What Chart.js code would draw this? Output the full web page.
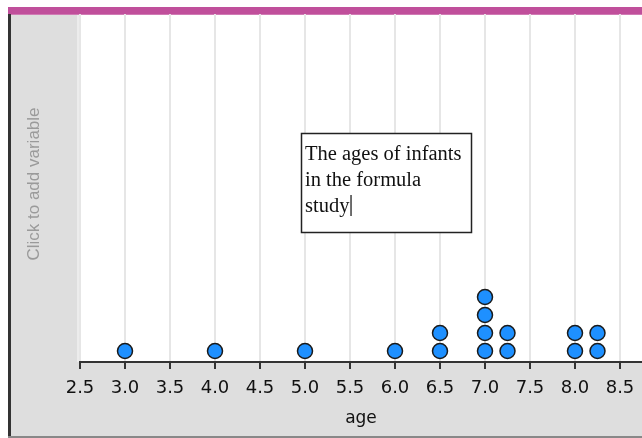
<!DOCTYPE html>
<html>
<head>
<meta charset="utf-8">
<title>Dot plot - age</title>
<script src="https://cdn.jsdelivr.net/npm/chart.js@4.4.1/dist/chart.umd.min.js"></script>
<style>
    html, body { margin: 0; padding: 0; background: #ffffff; }
    #wrap { position: relative; width: 642px; height: 438px; }
</style>
</head>
<body>
<div id="wrap"><canvas id="dotPlot" width="642" height="438"></canvas></div>
<script>
// Data: ages of infants in the formula study
const ages = [3.0, 4.0, 5.0, 6.0, 6.5, 6.5, 7.0, 7.0, 7.0, 7.0, 7.25, 7.25, 8.0, 8.0, 8.25, 8.25];
const xTickLabels = ['2.5', '3.0', '3.5', '4.0', '4.5', '5.0', '5.5', '6.0', '6.5', '7.0', '7.5', '8.0', '8.5'];
const axisTitle = 'age';
const sideLabel = 'Click to add variable';
const noteLines = ['The ages of infants', 'in the formula', 'study'];

// stack repeated values into columns of dots
function stackDots(values) {
    const seen = {};
    return values.map(function (v) {
        const k = String(v);
        seen[k] = (seen[k] || 0) + 1;
        return { x: v, y: seen[k] - 1 };
    });
}

// Frame, side panel and text note
const framePlugin = {
    id: 'frame',
    beforeDraw: function (chart) {
        const c = chart.ctx;
        const a = chart.chartArea;
        c.save();
        c.fillStyle = '#ffffff';
        c.fillRect(0, 0, chart.width, chart.height);
        c.fillStyle = '#dedede';
        c.fillRect(8, 14, chart.width - 8, chart.height - 14);
        c.fillStyle = '#ececec';
        c.fillRect(a.left - 3, a.top, 3, a.bottom - a.top);
        c.fillStyle = '#ffffff';
        c.fillRect(a.left, a.top, a.right - a.left, a.bottom - a.top);
        // top bar
        c.fillStyle = '#c04f9b';
        c.fillRect(8, 7, chart.width - 8, 7);
        c.fillStyle = '#d07ab4';
        c.fillRect(8, 14, chart.width - 8, 1);
        // borders
        c.fillStyle = '#333333';
        c.fillRect(8, 14, 3, chart.height - 14);
        c.fillStyle = '#888888';
        c.fillRect(8, chart.height - 2, chart.width - 8, 2);
        // side label
        c.translate(34, 184);
        c.rotate(-Math.PI / 2);
        c.fillStyle = '#9a9a9a';
        c.font = "17px 'Liberation Sans', Arial, sans-serif";
        c.textAlign = 'center';
        c.textBaseline = 'middle';
        c.fillText(sideLabel, 0, 0);
        c.restore();
    },
    afterDatasetsDraw: function (chart) {
        const c = chart.ctx;
        c.save();
        c.fillStyle = '#ffffff';
        c.fillRect(301, 133, 170, 99);
        c.strokeStyle = '#222222';
        c.lineWidth = 1.5;
        c.strokeRect(301.5, 133.5, 170, 99);
        c.fillStyle = '#111111';
        c.font = "20.5px 'Liberation Serif', 'Times New Roman', serif";
        c.textAlign = 'left';
        c.textBaseline = 'alphabetic';
        noteLines.forEach(function (line, i) {
            c.fillText(line, 305, 160 + i * 26);
        });
        // text cursor
        const w = c.measureText(noteLines[noteLines.length - 1]).width;
        c.fillRect(305 + w + 1, 195, 1.2, 21);
        c.restore();
    }
};

function initDotPlot() {
    const ctx = document.getElementById('dotPlot');
    if (!ctx) return;

    try {
        const config = {
            type: 'scatter',
            data: {
                datasets: [{
                    label: 'age',
                    data: stackDots(ages),
                    backgroundColor: '#1e90ff',
                    borderColor: '#1a1a1a',
                    borderWidth: 1.5,
                    pointRadius: 7.5,
                    pointHoverRadius: 7.5
                }]
            },
            options: {
                responsive: false,
                animation: false,
                layout: {
                    autoPadding: false,
                    padding: { left: 80, top: 14, right: 0, bottom: 0 }
                },
                plugins: {
                    legend: { display: false },
                    tooltip: { enabled: false }
                },
                scales: {
                    x: {
                        type: 'linear',
                        min: 2.5,
                        max: 2.5 + 562 / 90,
                        afterFit: function (scale) {
                            scale.height = 76;
                            scale.paddingLeft = 0;
                            scale.paddingRight = 0;
                        },
                        grid: {
                            color: '#e6e6e6',
                            lineWidth: 2,
                            tickColor: '#333333',
                            tickLength: 7,
                            tickWidth: 2
                        },
                        border: {
                            color: '#333333',
                            width: 2
                        },
                        ticks: {
                            stepSize: 0.5,
                            includeBounds: false,
                            autoSkip: false,
                            maxRotation: 0,
                            padding: 9,
                            color: '#111111',
                            font: {
                                size: 18,
                                family: "'DejaVu Sans', sans-serif"
                            },
                            callback: function (value) {
                                const i = Math.round((value - 2.5) / 0.5);
                                return xTickLabels[i] !== undefined ? xTickLabels[i] : '';
                            }
                        },
                        title: {
                            display: true,
                            text: axisTitle,
                            color: '#111111',
                            padding: { top: 0, bottom: 9 },
                            font: {
                                size: 17,
                                family: "'DejaVu Sans', sans-serif"
                            }
                        }
                    },
                    y: {
                        display: false,
                        min: -11 / 18,
                        max: (351 - 14) / 18
                    }
                }
            },
            plugins: [framePlugin]
        };

        new Chart(ctx, config);
    } catch (error) {
        console.error('Failed to initialize dot plot:', error);
    }
}

initDotPlot();
</script>
</body>
</html>
